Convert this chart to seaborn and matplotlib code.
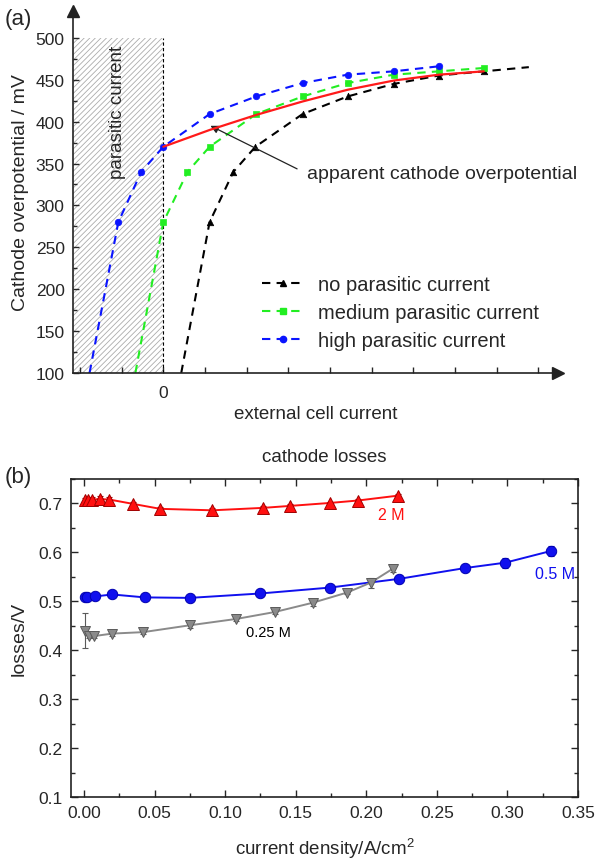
import numpy as np
import pandas as pd
import matplotlib
matplotlib.use("Agg")
import matplotlib.pyplot as plt
import seaborn as sns
from matplotlib.lines import Line2D
from matplotlib.ticker import MultipleLocator, FixedLocator, FormatStrFormatter

# ---------------- data: panel (a) (x in arbitrary tick units) ----------------
no_par_x = [0.43, 1.11, 1.68, 2.21, 3.34, 4.42, 5.53, 6.61, 7.69, 8.77]
no_par_y = [100, 280, 340, 370, 409, 430, 445, 455, 460, 465]
med_par_x = [-0.67, 0.0, 0.58, 1.11, 2.23, 3.34, 4.42, 5.53, 6.61, 7.69]
med_par_y = [100, 280, 340, 370, 409, 430, 446, 456, 460, 464]
high_par_x = [-1.77, -1.08, -0.53, 0.0, 1.11, 2.23, 3.34, 4.42, 5.53, 6.61]
high_par_y = [100, 280, 340, 370, 409, 430, 446, 456, 460, 466]
apparent_x = [0.0, 1.11, 2.23, 3.34, 4.42, 5.53, 6.61, 7.69]
apparent_y = [370, 390, 408, 424, 438, 449, 456, 460]
legend_labels = ["no parasitic current", "medium parasitic current", "high parasitic current"]

# ---------------- data: panel (b) ----------------
m2_x = [0.0007, 0.003, 0.006, 0.011, 0.018, 0.035, 0.054, 0.091, 0.127, 0.146, 0.174, 0.194, 0.2225]
m2_y = [0.708, 0.708, 0.708, 0.709, 0.708, 0.699, 0.689, 0.686, 0.691, 0.695, 0.701, 0.706, 0.716]
m2_err = [0.004, 0.004, 0.006, 0.006, 0.005, 0.004, 0.004, 0.004, 0.004, 0.004, 0.003, 0.003, 0.003]
m05_x = [0.0007, 0.002, 0.008, 0.020, 0.043, 0.075, 0.125, 0.174, 0.2235, 0.270, 0.2985, 0.331]
m05_y = [0.508, 0.508, 0.510, 0.514, 0.508, 0.507, 0.516, 0.528, 0.546, 0.568, 0.579, 0.603]
m05_err = [0.004, 0.004, 0.008, 0.006, 0.004, 0.004, 0.005, 0.004, 0.008, 0.006, 0.010, 0.010]
m025_x = [0.001, 0.0034, 0.0074, 0.020, 0.042, 0.075, 0.108, 0.135, 0.162, 0.1865, 0.203, 0.219]
m025_y = [0.440, 0.429, 0.429, 0.434, 0.437, 0.451, 0.464, 0.478, 0.497, 0.518, 0.538, 0.567]
m025_err = [0.036, 0.005, 0.005, 0.004, 0.004, 0.005, 0.004, 0.004, 0.006, 0.004, 0.010, 0.008]

sns.set_style("ticks")
plt.rcParams["font.family"] = ["Liberation Sans", "DejaVu Sans"]
plt.rcParams["mathtext.default"] = "regular"
plt.rcParams["hatch.linewidth"] = 0.6

W, H = 596, 862
fig = plt.figure(figsize=(W / 100, H / 100), dpi=100)
ax1 = fig.add_axes([73 / W, 1 - 374 / H, 485 / W, 362 / H])
ax2 = fig.add_axes([71 / W, 1 - 798 / H, 507 / W, 318 / H])

# ================= panel (a) =================
XL, XR = -2.167, 9.47
ax1.set_xlim(XL, XR)
ax1.set_ylim(100, 532)
ax1.fill_between([XL, 0], 100, 500, facecolor="white", edgecolor="#ababab",
                 hatch="//////", linewidth=0, zorder=0)
ax1.plot([0, 0], [100, 500], color="k", lw=0.8, ls=(0, (3, 2)), zorder=1)

dash = (0, (4, 3))
series = [
    (no_par_x, no_par_y, "k", "^", slice(1, -1)),
    (med_par_x, med_par_y, "#22ee22", "s", slice(1, None)),
    (high_par_x, high_par_y, "#0a14ff", "o", slice(1, None)),
]
handles = []
for (xs, ys, col, mk, sl), lab in zip(series, legend_labels):
    df = pd.DataFrame({"x": xs, "y": ys})
    sns.lineplot(data=df, x="x", y="y", color=col, lw=1.5, linestyle=dash,
                 sort=False, ax=ax1, zorder=2)
    sns.scatterplot(data=df.iloc[sl], x="x", y="y", color=col, marker=mk,
                    s=22, edgecolor=col, linewidth=0.5, ax=ax1, zorder=3)
    handles.append(Line2D([], [], color=col, lw=1.5, ls=dash, marker=mk, ms=4.5,
                          label=lab))
sns.lineplot(x=apparent_x, y=apparent_y, color="#ff1a1a", lw=1.6, sort=False,
             ax=ax1, zorder=4)

ax1.annotate("", xy=(1.13, 395), xytext=(3.21, 343.6),
             arrowprops=dict(arrowstyle="-|>", color="#222222", lw=0.9,
                             mutation_scale=12, shrinkA=0, shrinkB=0))
ax1.text(3.45, 337.6, "apparent cathode overpotential", fontsize=14,
         va="center", ha="left")
ax1.text(-1.09, 412, "parasitic current", fontsize=13.5, rotation=90,
         ha="center", va="center")

leg = fig.legend(handles=handles, loc="upper left",
                 bbox_to_anchor=(262 / W, 1 - 276 / H), frameon=False,
                 fontsize=14.5, handlelength=2.05, handletextpad=0.75,
                 labelspacing=0.45, borderpad=0, borderaxespad=0, numpoints=1)

for s in ["top", "right"]:
    ax1.spines[s].set_visible(False)
for s in ["left", "bottom"]:
    ax1.spines[s].set_linewidth(1.2)
    ax1.spines[s].set_color("#222222")
ax1.plot(1, 0, ">", color="#222222", ms=8, transform=ax1.transAxes, clip_on=False)
ax1.plot(0, 1, "^", color="#222222", ms=8, transform=ax1.transAxes, clip_on=False)

ax1.yaxis.set_major_locator(FixedLocator(list(range(100, 501, 50))))
ax1.yaxis.set_minor_locator(FixedLocator(list(range(125, 500, 50))))
xt = list(range(-2, 10))
ax1.set_xticks(xt)
ax1.set_xticklabels(["0" if t == 0 else "" for t in xt])
ax1.tick_params(axis="both", which="major", direction="in", length=4, width=1,
                labelsize=12.5, pad=6)
ax1.tick_params(axis="x", which="major", pad=9)
ax1.tick_params(axis="y", which="minor", direction="in", length=3, width=1)
ax1.set_xlabel("external cell current", fontsize=13.5, labelpad=3)
ax1.set_ylabel("Cathode overpotential / mV", fontsize=14, labelpad=5)
fig.text(5 / W, 1 - 20 / H, "(a)", fontsize=16, va="center", ha="left")

# ================= panel (b) =================
ax2.set_xlim(-0.0092, 0.35)
ax2.set_ylim(0.1, 0.75)

b_series = [
    (m2_x, m2_y, m2_err, "#ff1010", "#a00000", "^", 8),
    (m05_x, m05_y, m05_err, "#1010ee", "#0000b0", "o", 7.5),
    (m025_x, m025_y, m025_err, "#8a8a8a", "#5a5a5a", "v", 6.5),
]
for xs, ys, es, col, ecol, mk, ms in b_series:
    df = pd.DataFrame({"x": xs, "y": ys})
    ax2.errorbar(xs, ys, yerr=es, fmt="none", ecolor=ecol, elinewidth=0.8,
                 capsize=2.5, capthick=0.8, zorder=2)
    sns.lineplot(data=df, x="x", y="y", color=col, lw=1.4, marker=mk, ms=ms,
                 markerfacecolor=col, markeredgecolor=ecol, markeredgewidth=0.7,
                 sort=False, ax=ax2, zorder=3)

ax2.text(0.218, 0.678, "2 M", color="#ff1010", fontsize=11.5, ha="center", va="center")
ax2.text(0.334, 0.556, "0.5 M", color="#1010ee", fontsize=11.5, ha="center", va="center")
ax2.text(0.131, 0.437, "0.25 M", color="k", fontsize=10.5, ha="center", va="center")

ax2.xaxis.set_major_locator(MultipleLocator(0.05))
ax2.xaxis.set_minor_locator(MultipleLocator(0.025))
ax2.yaxis.set_major_locator(FixedLocator([0.1, 0.2, 0.3, 0.4, 0.5, 0.6, 0.7]))
ax2.yaxis.set_minor_locator(MultipleLocator(0.05))
ax2.xaxis.set_major_formatter(FormatStrFormatter("%.2f"))
ax2.yaxis.set_major_formatter(FormatStrFormatter("%.1f"))
ax2.tick_params(axis="both", which="both", direction="in", top=True, right=True,
                width=1, labelsize=12.5)
ax2.tick_params(axis="both", which="major", length=5, pad=6)
ax2.tick_params(axis="both", which="minor", length=3)
for s in ax2.spines.values():
    s.set_linewidth(1.2)
    s.set_color("#222222")
ax2.set_xlabel("current density/A/cm$^2$", fontsize=13.5, labelpad=11)
ax2.set_ylabel("losses/V", fontsize=14, labelpad=8)
ax2.set_title("cathode losses", fontsize=13.5, pad=13)
fig.text(5 / W, 1 - 478 / H, "(b)", fontsize=16, va="center", ha="left")

fig.savefig("out.png", dpi=100)
